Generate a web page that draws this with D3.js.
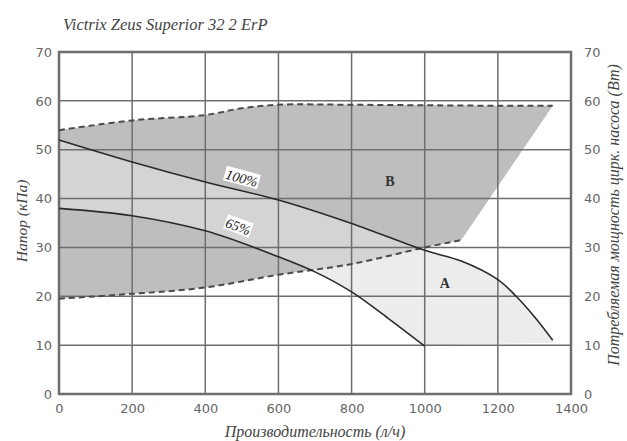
<!DOCTYPE html>
<html><head><meta charset="utf-8">
<script src="https://cdn.jsdelivr.net/npm/d3@7"></script>
<style>body{margin:0;background:#fff}</style>
</head><body>
<svg id="c" width="627" height="441"></svg>
<script>
// ---- data ----
const title = "Victrix Zeus Superior 32 2 ErP";
const xTicks = [0,200,400,600,800,1000,1200,1400];
const yTicks = [0,10,20,30,40,50,60,70];
const curve100X = [0,200,400,600,800,1000,1100,1200,1250,1300,1350];
const curve100Y = [52,47.5,43.4,39.7,34.9,29.4,27.2,23.4,20.0,15.8,11];
const curve65X = [0,200,400,600,700,800,900,1000];
const curve65Y = [38,36.5,33.4,28.1,25.0,20.9,15.5,9.8];
const lowerDashX = [0,200,400,600,800,1000,1100];
const lowerDashY = [19.5,20.5,21.8,24.4,26.6,30.0,31.5];
const upperDashX = [0,200,400,500,600,800,1000,1200,1350];
const upperDashY = [54,56,57.1,58.5,59.2,59.2,59.1,59,59];
const bandBottomX = [1350,1000];
const bandBottomY = [10.5,10];
const labels = [{t:"100%",x:500,y:44.2,a:15},{t:"65%",x:490,y:34.3,a:20}];
const zones = [{t:"B",x:905,y:43.6},{t:"A",x:1055,y:22.8}];

const svg = d3.select("#c");
const L=59,R=571,T=52,B=394;
const x = d3.scaleLinear().domain([0,1400]).range([L,R]);
const y = d3.scaleLinear().domain([0,70]).range([B,T]);
const zip=(a,b)=>a.map((v,i)=>[v,b[i]]);
const line = d3.line().x(d=>x(d[0])).y(d=>y(d[1])).curve(d3.curveCatmullRom.alpha(0.5));
const lin = d3.line().x(d=>x(d[0])).y(d=>y(d[1]));

const p100=zip(curve100X,curve100Y), p65=zip(curve65X,curve65Y);
const pLow=zip(lowerDashX,lowerDashY), pUp=zip(upperDashX,upperDashY);
const pBot=zip(bandBottomX,bandBottomY);

const bandPath = line(p100) + lin(pBot).replace(/^M/,"L") + line(p65.slice().reverse()).replace(/^M/,"L") + "Z";
const bPath = line(pUp) + line(pLow.slice().reverse()).replace(/^M/,"L") + "Z";

const defs = svg.append("defs");
defs.append("clipPath").attr("id","clipB").append("path").attr("d",bPath);

svg.append("path").attr("d",bandPath).attr("fill","#ececec");
svg.append("path").attr("d",bPath).attr("fill","#bebebe");
svg.append("path").attr("d",bandPath).attr("fill","#d4d4d4").attr("clip-path","url(#clipB)");

// grid
const g = svg.append("g").attr("stroke","#6e6e6e").attr("stroke-width",1.5);
xTicks.slice(1,-1).forEach(v=>g.append("line").attr("x1",x(v)).attr("x2",x(v)).attr("y1",T).attr("y2",B));
yTicks.slice(1,-1).forEach(v=>g.append("line").attr("x1",L).attr("x2",R).attr("y1",y(v)).attr("y2",y(v)));
svg.append("rect").attr("x",L).attr("y",T).attr("width",R-L).attr("height",B-T)
  .attr("fill","none").attr("stroke","#6e6e6e").attr("stroke-width",2.5);

// lines
svg.append("path").attr("d",line(pUp)).attr("fill","none").attr("stroke","#4a4a4a").attr("stroke-width",2).attr("stroke-dasharray","6,4");
svg.append("path").attr("d",line(pLow)).attr("fill","none").attr("stroke","#4a4a4a").attr("stroke-width",2).attr("stroke-dasharray","6,4");
svg.append("path").attr("d",line(p100)).attr("fill","none").attr("stroke","#2a2a2a").attr("stroke-width",1.6);
svg.append("path").attr("d",line(p65)).attr("fill","none").attr("stroke","#2a2a2a").attr("stroke-width",1.6);

// curve labels
labels.forEach(l=>{
  const gg = svg.append("g").attr("transform",`translate(${x(l.x)},${y(l.y)}) rotate(${l.a})`);
  const w = l.t.length*7.8+4;
  gg.append("rect").attr("x",-w/2).attr("y",-8).attr("width",w).attr("height",15).attr("fill","#fff");
  gg.append("text").attr("text-anchor","middle").attr("dy","0.35em")
    .attr("font-family","Liberation Serif, serif").attr("font-style","italic").attr("font-size",14)
    .attr("fill","#222").text(l.t);
});
zones.forEach(z=>svg.append("text").attr("x",x(z.x)).attr("y",y(z.y)).attr("dy","0.35em")
  .attr("text-anchor","middle").attr("font-family","Liberation Serif, serif").attr("font-weight","bold")
  .attr("font-size",14).attr("fill","#333").text(z.t));

// axes
const tickFont = "DejaVu Sans, sans-serif";
const ax = svg.append("g").attr("transform",`translate(0,${B})`).call(d3.axisBottom(x).tickValues(xTicks).tickSize(0).tickPadding(10).tickFormat(d3.format("d")));
const al = svg.append("g").attr("transform",`translate(${L},0)`).call(d3.axisLeft(y).tickValues(yTicks).tickSize(0).tickPadding(7));
const ar = svg.append("g").attr("transform",`translate(${R},0)`).call(d3.axisRight(y).tickValues(yTicks).tickSize(0).tickPadding(13));
[ax,al,ar].forEach(a=>{a.select(".domain").remove();
  a.selectAll("text").attr("font-family",tickFont).attr("font-size",13).attr("fill","#666");});

// titles
const serif = "Liberation Serif, serif";
svg.append("text").attr("x",63).attr("y",30).attr("font-family",serif).attr("font-style","italic")
  .attr("font-size",16.5).attr("fill","#444").text(title);
svg.append("text").attr("x",(L+R)/2).attr("y",437).attr("text-anchor","middle").attr("font-family",serif)
  .attr("font-style","italic").attr("font-size",16).attr("fill","#444").text("Производительность (л/ч)");
svg.append("text").attr("transform",`translate(27,${(T+B)/2-2}) rotate(-90)`).attr("text-anchor","middle")
  .attr("font-family",serif).attr("font-style","italic").attr("font-size",15.5).attr("fill","#444").text("Напор (кПа)");
svg.append("text").attr("transform",`translate(619,${215}) rotate(-90)`).attr("text-anchor","middle")
  .attr("font-family",serif).attr("font-style","italic").attr("font-size",16).attr("fill","#444")
  .text("Потребляемая мощность цирк. насоса (Вт)");
</script>
</body></html>
